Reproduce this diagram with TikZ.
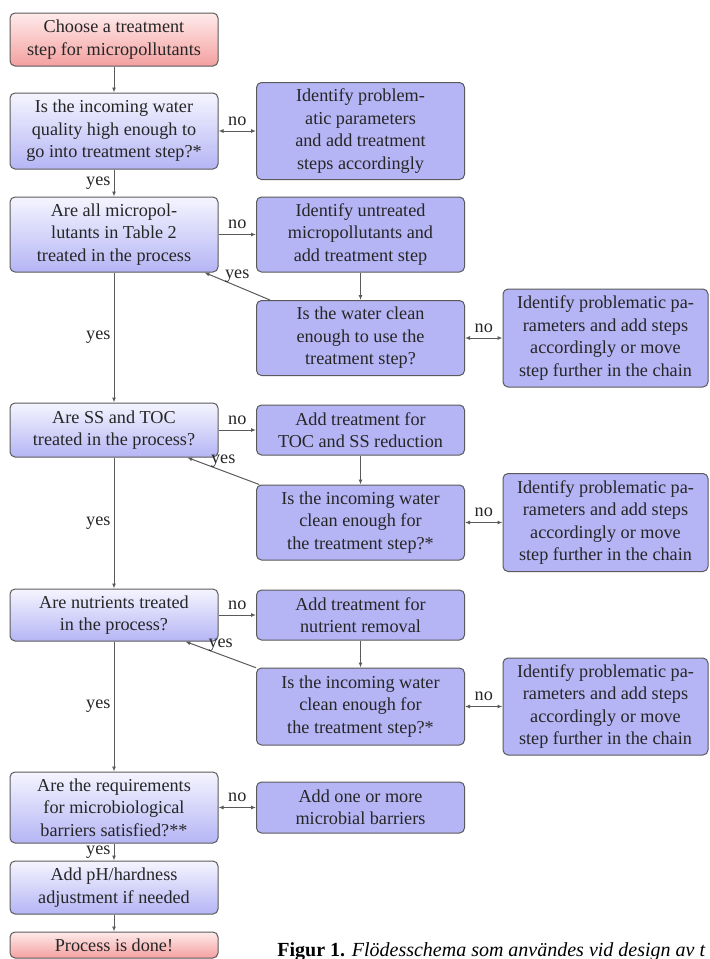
\documentclass[tikz,border=0pt]{standalone}
\usepackage{fontspec}
\setmainfont{Liberation Serif}
\usetikzlibrary{arrows.meta}
\definecolor{boxblue}{RGB}{181,181,245}
\definecolor{boxred}{RGB}{244,160,160}
\definecolor{linegray}{RGB}{90,90,90}
\begin{document}
\begin{tikzpicture}[x=0.5pt,y=-0.5pt,
 base/.style={draw=linegray, line width=0.5pt, rounded corners=2.5pt, align=center, inner sep=1pt, font=\fontsize{9.1}{11.2}\selectfont, text=black!85},
 lbox/.style={base, top color=blue!4, bottom color=boxblue, minimum width=104pt},
 mbox/.style={base, fill=boxblue, minimum width=104pt},
 rbox/.style={base, fill=boxblue, minimum width=102.5pt},
 sbox/.style={base, top color=red!8, bottom color=boxred, minimum width=104pt},
 conn/.style={draw=linegray, line width=0.5pt, -{Latex[length=2.5pt,width=2pt]}},
 bconn/.style={draw=linegray, line width=0.5pt, {Latex[length=2.5pt,width=2pt]}-{Latex[length=2.5pt,width=2pt]}},
 lbl/.style={font=\fontsize{9.1}{11.2}\selectfont, text=black!85, inner sep=1.5pt}
]
\useasboundingbox (0,0) rectangle (710,959);
\clip (0,0) rectangle (710,959);

% left column
\node[sbox, minimum height=26.5pt] (b1) at (114,39.5) {Choose a treatment\\step for micropollutants};
\node[lbox, minimum height=38pt] (b2) at (114,131) {Is the incoming water\\quality high enough to\\go into treatment step?*};
\node[lbox, minimum height=37.5pt] (b3) at (114,234.5) {Are all micropol-\\lutants in Table 2\\treated in the process};
\node[lbox, minimum height=27pt] (b4) at (114,430) {Are SS and TOC\\treated in the process?};
\node[lbox, minimum height=26pt] (b5) at (114,615) {Are nutrients treated\\in the process?};
\node[lbox, minimum height=35.5pt] (b6) at (114,807.5) {Are the requirements\\for microbiological\\barriers satisfied?**};
\node[lbox, minimum height=26.5pt] (b7) at (114,887.5) {Add pH/hardness\\adjustment if needed};
\node[sbox, minimum height=13pt] (b8) at (114,945) {Process is done!};

% middle column
\node[mbox, minimum height=48.5pt] (m1) at (360.5,131) {Identify problem-\\atic parameters\\and add treatment\\steps accordingly};
\node[mbox, minimum height=37.5pt] (m2) at (360.5,234.5) {Identify untreated\\micropollutants and\\add treatment step};
\node[mbox, minimum height=37.5pt] (m3) at (360.5,338) {Is the water clean\\enough to use the\\treatment step?};
\node[mbox, minimum height=25pt] (m4) at (360.5,430) {Add treatment for\\TOC and SS reduction};
\node[mbox, minimum height=37.5pt] (m5) at (360.5,522.5) {Is the incoming water\\clean enough for\\the treatment step?*};
\node[mbox, minimum height=25pt] (m6) at (360.5,615) {Add treatment for\\nutrient removal};
\node[mbox, minimum height=38.5pt] (m7) at (360.5,706.5) {Is the incoming water\\clean enough for\\the treatment step?*};
\node[mbox, minimum height=25.5pt] (m8) at (360.5,807.5) {Add one or more\\microbial barriers};

% right column
\node[rbox, minimum height=49pt] (r1) at (605.5,338) {Identify problematic pa-\\rameters and add steps\\accordingly or move\\step further in the chain};
\node[rbox, minimum height=49pt] (r2) at (605.5,522.5) {Identify problematic pa-\\rameters and add steps\\accordingly or move\\step further in the chain};
\node[rbox, minimum height=48.5pt] (r3) at (605.5,706.5) {Identify problematic pa-\\rameters and add steps\\accordingly or move\\step further in the chain};

% connectors
\draw[conn] (b1) -- (b2);
\draw[bconn] (b2) -- node[lbl, above=1pt] {no} (m1);
\draw[conn] (b2) -- node[lbl, left] {yes} (b3);
\draw[conn] (b3) -- node[lbl, above=1pt] {no} (m2);
\draw[conn] (m2) -- (m3);
\draw[conn] (m3) -- node[lbl, above] {yes} (b3);
\draw[bconn] (m3) -- node[lbl, above=1pt] {no} (r1);
\draw[conn] (b3) -- node[lbl, left] {yes} (b4);
\draw[conn] (b4) -- node[lbl, above=1pt] {no} (m4);
\draw[conn] (m4) -- (m5);
\draw[conn] (m5) -- node[lbl, above] {yes} (b4);
\draw[bconn] (m5) -- node[lbl, above=1pt] {no} (r2);
\draw[conn] (b4) -- node[lbl, left] {yes} (b5);
\draw[conn] (b5) -- node[lbl, above=1pt] {no} (m6);
\draw[conn] (m6) -- (m7);
\draw[conn] (m7) -- node[lbl, above] {yes} (b5);
\draw[bconn] (m7) -- node[lbl, above=1pt] {no} (r3);
\draw[conn] (b5) -- node[lbl, left] {yes} (b6);
\draw[bconn] (b6) -- node[lbl, above=1pt] {no} (m8);
\draw[conn] (b6) -- node[lbl, left] {yes} (b7);
\draw[conn] (b7) -- (b8);

% caption
\node[anchor=base west, inner sep=0pt, font=\fontsize{10}{12}\selectfont, text=black] (cap) at (277,956) {\textbf{Figur 1.} \textit{Flödesschema som användes vid design av t}};
\end{tikzpicture}
\end{document}
